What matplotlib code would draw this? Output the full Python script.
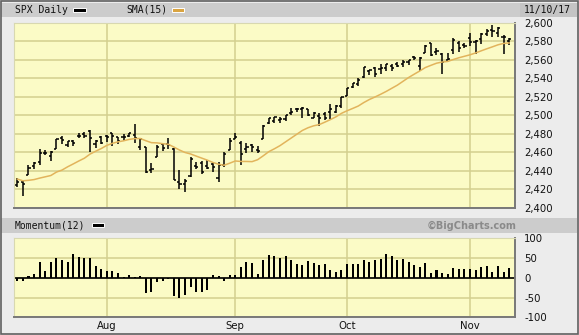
import matplotlib.pyplot as plt
from matplotlib.patches import Rectangle
import numpy as np
import pandas as pd

# SPX daily bars, 10 Jul 2017 - 10 Nov 2017
opens = [2424.5, 2427.4, 2435.8, 2445.0, 2449.2, 2459.5, 2455.9, 2463.9, 2475.6, 2467.4,
         2472.0, 2477.9, 2480.0, 2482.8, 2469.1, 2475.9, 2477.1, 2480.4, 2476.0, 2476.9,
         2477.1, 2478.4, 2465.4, 2465.4, 2441.0, 2455.0, 2468.7, 2468.6, 2463.0, 2427.6,
         2425.5, 2433.8, 2444.9, 2447.9, 2444.7, 2447.4, 2431.9, 2446.1, 2462.7, 2474.4,
         2470.4, 2463.8, 2468.1, 2462.3, 2474.5, 2491.9, 2493.9, 2494.6, 2495.7, 2502.5,
         2506.3, 2506.8, 2507.2, 2497.3, 2499.4, 2501.0, 2503.3, 2503.4, 2510.4, 2521.2,
         2530.3, 2533.5, 2540.9, 2547.4, 2551.4, 2550.0, 2550.6, 2552.9, 2555.7, 2555.6,
         2557.2, 2562.9, 2553.4, 2567.6, 2578.1, 2568.7, 2566.5, 2560.1, 2570.3, 2577.8,
         2576.0, 2583.2, 2579.5, 2581.9, 2587.5, 2592.1, 2589.1, 2584.0, 2580.2]
highs = [2432.0, 2429.3, 2445.8, 2449.3, 2463.5, 2462.8, 2460.9, 2473.8, 2477.6, 2472.5,
         2473.1, 2481.2, 2481.7, 2484.0, 2473.5, 2478.0, 2478.5, 2480.4, 2476.0, 2480.0,
         2481.0, 2490.9, 2474.4, 2465.4, 2448.1, 2468.2, 2468.9, 2474.9, 2465.0, 2440.3,
         2430.6, 2454.8, 2448.9, 2450.4, 2452.0, 2449.1, 2449.2, 2460.3, 2475.0, 2480.4,
         2472.0, 2469.6, 2468.6, 2467.1, 2489.0, 2496.8, 2498.4, 2498.4, 2500.2, 2508.3,
         2507.8, 2508.9, 2507.2, 2503.5, 2502.5, 2503.5, 2511.8, 2510.8, 2519.4, 2529.2,
         2535.1, 2540.5, 2552.5, 2549.4, 2551.8, 2555.2, 2555.2, 2555.3, 2557.7, 2559.5,
         2559.7, 2564.1, 2562.4, 2575.4, 2578.3, 2572.2, 2567.4, 2567.1, 2583.0, 2580.0,
         2578.3, 2588.4, 2581.1, 2588.4, 2593.4, 2597.0, 2595.5, 2586.5, 2583.8]
lows = [2422.3, 2412.8, 2435.8, 2441.7, 2446.7, 2457.2, 2450.3, 2463.9, 2468.4, 2465.1,
        2466.3, 2474.9, 2474.9, 2459.9, 2464.7, 2468.5, 2471.1, 2466.5, 2468.9, 2472.1,
        2475.9, 2470.3, 2462.1, 2437.8, 2437.9, 2455.0, 2461.6, 2463.9, 2430.0, 2420.7,
        2417.4, 2433.7, 2441.4, 2436.2, 2442.0, 2439.0, 2428.2, 2443.8, 2462.7, 2473.9,
        2446.6, 2459.2, 2460.3, 2459.4, 2474.5, 2490.4, 2492.1, 2491.4, 2493.2, 2499.9,
        2503.2, 2496.7, 2499.0, 2496.5, 2488.0, 2495.1, 2495.9, 2502.9, 2508.0, 2520.4,
        2528.9, 2531.8, 2540.0, 2543.8, 2541.6, 2544.9, 2548.0, 2548.3, 2552.1, 2552.6,
        2554.7, 2559.7, 2547.9, 2567.6, 2564.3, 2565.6, 2544.0, 2559.8, 2565.9, 2568.3,
        2572.2, 2574.9, 2566.2, 2576.8, 2585.7, 2584.1, 2585.0, 2566.3, 2575.6]
closes = [2427.4, 2425.5, 2443.3, 2447.8, 2459.3, 2459.1, 2460.6, 2473.8, 2473.5, 2472.5,
          2469.9, 2477.1, 2477.8, 2475.4, 2472.1, 2470.3, 2476.4, 2477.6, 2472.2, 2476.8,
          2480.9, 2474.9, 2474.0, 2438.2, 2441.3, 2465.8, 2464.6, 2468.1, 2430.0, 2425.6,
          2428.4, 2452.5, 2444.0, 2439.0, 2443.1, 2444.2, 2446.3, 2457.6, 2471.7, 2476.6,
          2457.9, 2465.5, 2465.1, 2461.4, 2488.1, 2496.5, 2498.4, 2495.6, 2500.2, 2503.9,
          2506.7, 2508.2, 2500.6, 2502.2, 2496.7, 2496.8, 2507.0, 2510.1, 2519.4, 2529.1,
          2534.6, 2537.7, 2552.1, 2549.3, 2544.7, 2550.6, 2555.2, 2550.9, 2553.2, 2557.6,
          2559.4, 2561.3, 2562.1, 2575.2, 2565.0, 2569.1, 2557.2, 2560.4, 2581.1, 2572.8,
          2575.3, 2579.4, 2579.9, 2587.8, 2591.1, 2590.6, 2594.4, 2584.6, 2582.3]

# SMA(15) as shown on the chart
sma15 = [2431.0, 2429.1, 2429.6, 2430.4, 2432.0, 2433.4, 2434.8, 2438.5, 2440.7, 2444.2,
         2447.3, 2450.5, 2453.5, 2457.9, 2461.0, 2463.9, 2467.3, 2469.6, 2471.2, 2472.3,
         2473.8, 2474.7, 2474.8, 2472.4, 2470.3, 2470.1, 2469.2, 2468.6, 2465.6, 2462.4,
         2459.7, 2458.1, 2455.8, 2453.6, 2451.4, 2448.9, 2447.0, 2445.9, 2448.1, 2450.5,
         2450.0, 2450.0, 2449.8, 2451.9, 2456.1, 2460.6, 2463.7, 2467.1, 2471.2, 2475.3,
         2479.4, 2483.5, 2486.4, 2488.5, 2489.8, 2492.4, 2495.2, 2498.2, 2502.0, 2504.8,
         2507.3, 2509.9, 2513.7, 2517.0, 2519.7, 2522.6, 2525.7, 2529.1, 2532.5, 2536.6,
         2540.7, 2544.3, 2547.8, 2551.5, 2553.9, 2556.2, 2557.5, 2558.1, 2560.2, 2562.1,
         2563.7, 2565.3, 2567.3, 2569.6, 2571.8, 2573.9, 2576.1, 2577.6, 2578.1]

# Momentum(12)
momentum = [-8, -9, 5, 9, 40, 18, 41, 50, 44, 40,
            60, 52, 50, 50, 29, 22, 17, 18, 12, 3,
            7, 2, 4, -39, -37, -10, -7, -2, -46, -52,
            -44, -24, -37, -36, -31, 6, 5, -8, 7, 8,
            28, 40, 37, 9, 44, 58, 55, 51, 54, 46,
            35, 32, 43, 37, 32, 35, 19, 14, 21, 34,
            34, 34, 45, 41, 44, 48, 59, 54, 46, 48,
            40, 32, 28, 37, 13, 20, 12, 10, 26, 22,
            22, 22, 20, 27, 29, 15, 29, 15, 25]

price_ticks = [2400, 2420, 2440, 2460, 2480, 2500, 2520, 2540, 2560, 2580, 2600]
mom_ticks = [-100, -50, 0, 50, 100]

dates = pd.bdate_range('2017-07-10', '2017-11-10')
dates = dates[dates != pd.Timestamp('2017-09-04')]  # Labor Day
x = np.arange(len(closes))

# first trading day of each month (after the first one)
month_pos = [i for i in range(1, len(dates)) if dates[i].month != dates[i - 1].month]
month_lab = [dates[i].strftime('%b') for i in month_pos]

plt.rcParams['axes.unicode_minus'] = False

W, H = 579, 335
fig = plt.figure(figsize=(W / 100, H / 100), dpi=100)
fig.patch.set_facecolor('#ececec')


def box(x0, y0, x1, y1):
    return [x0 / W, 1 - y1 / H, (x1 - x0) / W, (y1 - y0) / H]


def rect(x0, y0, x1, y1, **kw):
    fig.patches.append(Rectangle((x0 / W, 1 - y1 / H), (x1 - x0) / W, (y1 - y0) / H,
                                 transform=fig.transFigure, figure=fig, **kw))


# header bands
rect(1, 3, 520, 17, facecolor='#cccccc', edgecolor='none')
rect(520, 3, 577, 17, facecolor='#c4c4c4', edgecolor='none')
rect(1, 218, 577, 233, facecolor='#cccccc', edgecolor='none')
# outer frame
rect(0.5, 0.5, 578, 334, facecolor='none', edgecolor='#606060', lw=1.2)

# legend swatches
rect(73, 8, 86, 12, facecolor='black', edgecolor='white', lw=0.7)
rect(172, 8, 184, 12, facecolor='#d9a441', edgecolor='white', lw=0.7)
rect(92, 223, 104, 227, facecolor='black', edgecolor='white', lw=0.7)

mono = 'DejaVu Sans Mono'
fig.text(15 / W, 1 - 10 / H, 'SPX Daily', family=mono, fontsize=7, va='center', color='#111111')
fig.text(126 / W, 1 - 10 / H, 'SMA(15)', family=mono, fontsize=7, va='center', color='#111111')
fig.text(524 / W, 1 - 9.5 / H, '11/10/17', family=mono, fontsize=7, va='center', color='#111111')
fig.text(15 / W, 1 - 225.5 / H, 'Momentum(12)', family=mono, fontsize=7, va='center', color='#111111')
fig.text(516 / W, 1 - 225.5 / H, '\u00a9BigCharts.com', fontsize=7, fontweight='bold',
         ha='right', va='center', color='#8a8a8a')

yellow = '#fbfbc6'
grid_c = '#d3cf8e'
xlo, xhi = -0.54, 89.1


def style(ax):
    ax.set_facecolor(yellow)
    ax.set_xlim(xlo, xhi)
    ax.yaxis.tick_right()
    ax.tick_params(axis='y', length=0, pad=6.3, labelsize=7.3, colors='#111111')
    ax.set_xticks(month_pos)
    ax.grid(True, color=grid_c, lw=1.1)
    ax.set_axisbelow(True)
    for s in ['top', 'left']:
        ax.spines[s].set_color('#d8d8b0')
        ax.spines[s].set_linewidth(0.8)
    for s in ['bottom', 'right']:
        ax.spines[s].set_color('#787878')
        ax.spines[s].set_linewidth(1.4)


# main price panel
ax = fig.add_axes(box(14.3, 22.7, 515.3, 207.7))
style(ax)
ax.set_ylim(2400, 2600)
ax.set_yticks(price_ticks)
ax.set_yticklabels([f'{v:,}' for v in price_ticks])
ax.tick_params(axis='x', length=0, labelbottom=False)

tick = 0.38
ax.vlines(x, lows, highs, color='black', lw=1.1)
ax.hlines(opens, x - tick, x, color='black', lw=1.1)
ax.hlines(closes, x, x + tick, color='black', lw=1.1)
ax.plot(x, sma15, color='#e2b45c', lw=1.1)

# momentum panel
ax2 = fig.add_axes(box(14.3, 238.3, 515.3, 317.3))
style(ax2)
ax2.set_ylim(-100, 100)
ax2.set_yticks(mom_ticks)
ax2.set_yticklabels([str(v) for v in mom_ticks])
ax2.set_xticklabels(month_lab)
ax2.tick_params(axis='x', length=0, pad=3, labelsize=7.3, colors='#111111')
ax2.bar(x, momentum, width=0.36, color='black')
ax2.axhline(0, color='black', lw=1.2)

plt.savefig('out.png', dpi=100, facecolor=fig.get_facecolor())
